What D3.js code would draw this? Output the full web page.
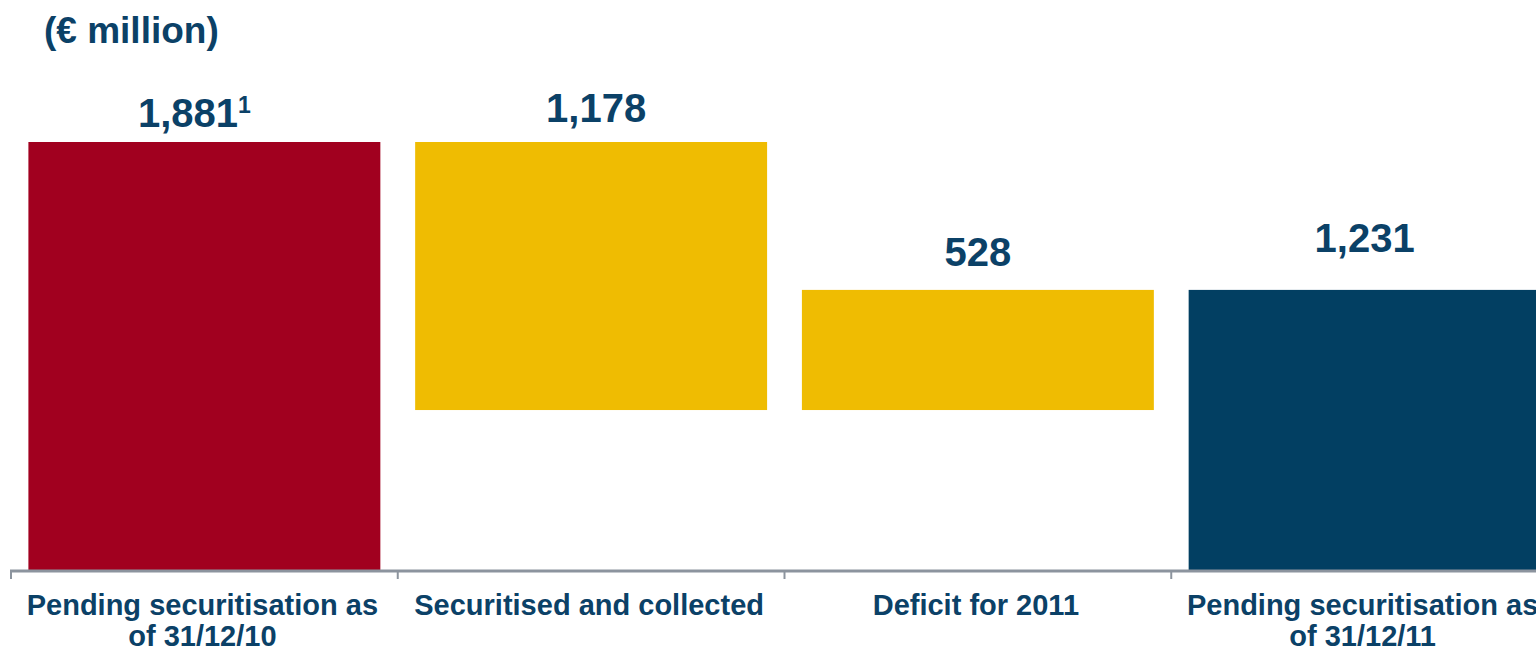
<!DOCTYPE html>
<html>
<head>
<meta charset="utf-8">
<script src="https://cdn.jsdelivr.net/npm/d3@7"></script>
<style>
  html, body { margin: 0; padding: 0; background: #ffffff; overflow: hidden; }
  svg { display: block; font-family: "Liberation Sans", Arial, sans-serif; }
</style>
</head>
<body>
<svg id="chart" width="1536" height="649"></svg>
<script>
// Tariff deficit bridge, € million
const categories = [
  "Pending securitisation as\nof 31/12/10",
  "Securitised and collected",
  "Deficit for 2011",
  "Pending securitisation as\nof 31/12/11"
];
const values = [1881, -1178, 528, 1231];
const kinds = ["total", "delta", "delta", "total"];
const valueLabels = ["1,881", "1,178", "528", "1,231"];
const footnoteMarks = ["1", "", "", ""];
const unitLabel = "(€ million)";

const colors = { total0: "#A1001F", delta: "#EFBC02", total1: "#023F62", text: "#0B4167", axis: "#8C949E" };

const svg = d3.select("#chart");
const baseY = 570, topY = 142;

// running waterfall: totals start at zero, deltas float from the previous level
let level = 0;
const bars = categories.map((c, i) => {
  let y0, y1;
  if (kinds[i] === "total") { y0 = 0; y1 = values[i]; level = values[i]; }
  else { y0 = level; y1 = level + values[i]; level = y1; }
  return { cat: c, i, lo: Math.min(y0, y1), hi: Math.max(y0, y1) };
});

const x = d3.scaleBand().domain(categories).range([11, 1558]).paddingInner(0.09).paddingOuter(0.045);
const y = d3.scaleLinear().domain([0, d3.max(bars, d => d.hi)]).range([baseY, topY]);

const fillFor = (d) => d.i === 0 ? colors.total0 : (kinds[d.i] === "total" ? colors.total1 : colors.delta);

svg.append("g").selectAll("rect").data(bars).join("rect")
  .attr("x", d => x(d.cat))
  .attr("width", x.bandwidth())
  .attr("y", d => y(d.hi))
  .attr("height", d => y(d.lo) - y(d.hi))
  .attr("fill", fillFor);

// category axis: baseline with ticks on band boundaries
const axis = svg.append("g").attr("stroke", colors.axis);
axis.append("line").attr("x1", x.range()[0] - 1).attr("x2", 1536)
  .attr("y1", baseY + 1).attr("y2", baseY + 1).attr("stroke-width", 3);
const step = x.step();
categories.forEach(c => {
  const bx = x(c) - step * x.paddingInner() / 2 - (c === categories[0] ? step * (x.paddingOuter() - x.paddingInner() / 2) : 0);
  axis.append("line").attr("x1", bx).attr("x2", bx).attr("y1", baseY).attr("y2", baseY + 9).attr("stroke-width", 2);
});

// category labels
svg.append("g").selectAll("text").data(bars).join("text")
  .attr("text-anchor", "middle")
  .attr("font-size", 29).attr("font-weight", "bold").attr("fill", colors.text)
  .each(function(d) {
    const t = d3.select(this);
    d.cat.split("\n").forEach((line, k) => {
      t.append("tspan").attr("x", x(d.cat) + x.bandwidth() / 2 - 2).attr("y", 615 + k * 31).text(line);
    });
  });

// value labels above each bar
const labelLift = [15, 20, 24, 38];
const labelNudge = [-10, 5, 0, 0];
svg.append("g").selectAll("text").data(bars).join("text")
  .attr("text-anchor", "middle")
  .attr("x", d => x(d.cat) + x.bandwidth() / 2 + labelNudge[d.i])
  .attr("y", d => y(d.hi) - labelLift[d.i])
  .attr("font-size", 40).attr("font-weight", "bold").attr("fill", colors.text)
  .each(function(d) {
    const t = d3.select(this);
    t.append("tspan").text(valueLabels[d.i]);
    if (footnoteMarks[d.i]) {
      t.append("tspan").attr("font-size", 23).attr("dy", -14).text(footnoteMarks[d.i]);
    }
  });

svg.append("text").attr("x", 44).attr("y", 43)
  .attr("font-size", 37).attr("font-weight", "bold").attr("fill", colors.text)
  .text(unitLabel);
</script>
</body>
</html>
